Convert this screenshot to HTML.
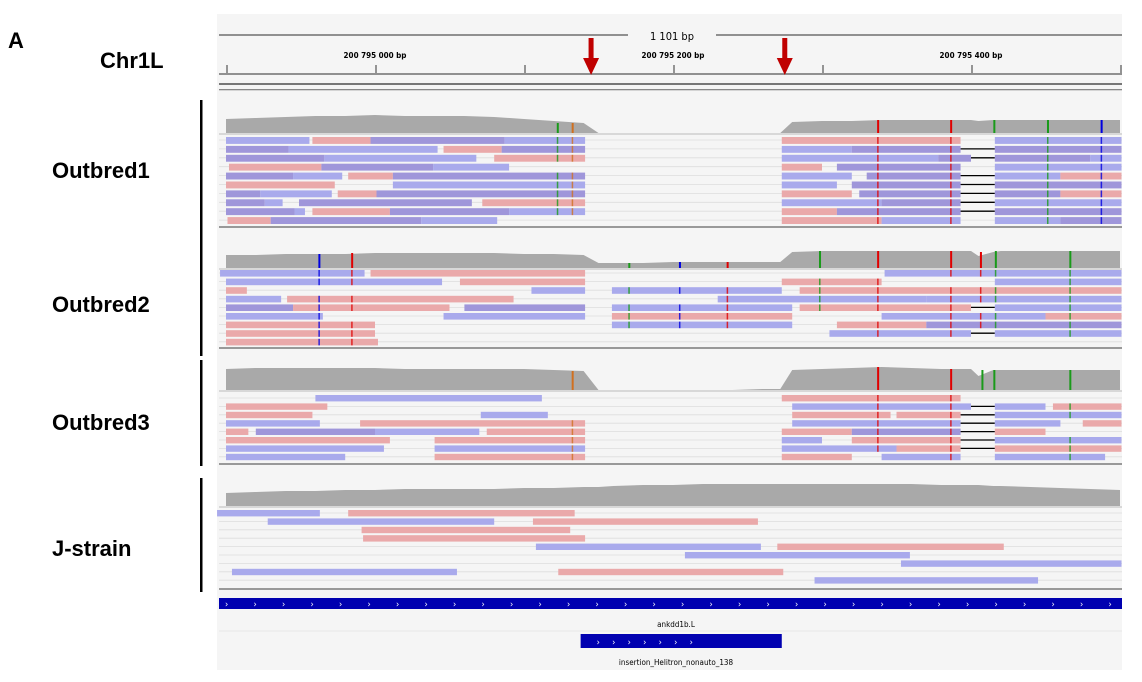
<!DOCTYPE html>
<html><head><meta charset="utf-8">
<style>
body{margin:0;background:#fff;width:1142px;height:682px;overflow:hidden;font-family:"Liberation Sans",sans-serif}
svg{position:absolute;left:0;top:0}
.lbl{font-family:"Liberation Sans",sans-serif;font-weight:bold;font-size:22px;fill:#000}
.sm{font-family:"DejaVu Sans Condensed","DejaVu Sans",sans-serif;font-size:8px;fill:#000}
</style></head>
<body>
<svg id="c" width="1142" height="682"></svg>
<script>
// genomic coordinate (bp offset from 200 794 900) -> pixel
const tickLabels=["200 795 000 bp","200 795 200 bp","200 795 400 bp"];
const tickLabelBp=[100,300,500];
const tickBp=[0,100,200,300,400,500,600];
const arrowBp=[243,373];
const covBp=[0,20,40,60,80,100,120,140,160,180,200,220,240,250,260,280,300,320,340,360,372,380,400,420,440,460,480,500,505,515,520,540,560,580,600];
const cov1=[14,15,16,17,17,18,17,17,17,16,14,12,10,0,0,0,0,0,0,0,0,11,12,12,13,13,13,13,12,13,13,13,13,13,13];
const cov2=[13,13,14,14,14,15,15,15,15,15,14,14,13,5,5,5,6,6,6,6,6,16,17,17,17,17,17,17,12,16,17,17,17,17,17];
const cov3=[21,22,22,22,22,22,21,21,21,21,21,20,19,0,0,0,0,0,0,1,1,20,21,22,23,22,21,21,14,20,20,20,20,20,20];
const cov4=[13,14,15,15,16,16,17,17,17,17,18,18,19,19,20,21,21,22,22,22,22,22,22,22,22,22,21,21,21,20,20,19,18,17,16];
// reads: [row, startBp, endBp, colour]  p=pink(+) b=blue(-) v=overlapping pair
const reads1=[[0,0,56,'b'],[0,58,97,'p'],[0,97,187,'v'],[0,187,241,'b'],[0,373,493,'p'],[0,516,601,'b'],
[1,0,42,'v'],[1,42,142,'b'],[1,146,185,'p'],[1,185,241,'v'],[1,373,420,'b'],[1,420,493,'v'],[1,516,601,'v'],
[2,0,66,'v'],[2,66,168,'b'],[2,180,241,'p'],[2,373,478,'b'],[2,478,500,'v'],[2,516,580,'v'],[2,580,601,'b'],
[3,2,64,'p'],[3,64,139,'v'],[3,139,190,'b'],[3,373,400,'p'],[3,410,493,'v'],[3,516,601,'b'],
[4,0,45,'v'],[4,45,78,'b'],[4,82,112,'p'],[4,112,241,'v'],[4,373,420,'b'],[4,430,493,'v'],[4,516,560,'b'],[4,560,601,'p'],
[5,0,73,'p'],[5,112,241,'b'],[5,373,410,'b'],[5,420,493,'v'],[5,516,601,'v'],
[6,0,23,'v'],[6,23,71,'b'],[6,75,101,'p'],[6,101,241,'v'],[6,373,420,'p'],[6,425,493,'v'],[6,516,560,'v'],[6,560,601,'p'],
[7,0,26,'v'],[7,26,38,'b'],[7,49,165,'v'],[7,172,241,'p'],[7,373,440,'b'],[7,440,493,'v'],[7,516,601,'b'],
[8,0,46,'v'],[8,46,53,'b'],[8,58,110,'p'],[8,110,190,'v'],[8,190,241,'b'],[8,373,410,'p'],[8,410,493,'v'],[8,516,601,'v'],
[9,1,30,'p'],[9,30,131,'v'],[9,131,182,'b'],[9,373,440,'p'],[9,440,493,'b'],[9,516,560,'b'],[9,560,601,'v']];
const reads2=[[0,-4,93,'b'],[0,97,241,'p'],[0,442,601,'b'],
[1,0,145,'b'],[1,157,241,'p'],[1,373,440,'p'],[1,516,601,'b'],
[2,0,14,'p'],[2,205,241,'b'],[2,259,373,'b'],[2,385,601,'p'],
[3,0,37,'b'],[3,41,193,'p'],[3,330,470,'b'],[3,470,601,'b'],
[4,0,45,'v'],[4,45,150,'p'],[4,160,241,'v'],[4,259,380,'b'],[4,385,500,'p'],[4,516,601,'b'],
[5,0,65,'b'],[5,146,241,'b'],[5,259,380,'p'],[5,440,550,'b'],[5,550,601,'p'],
[6,0,100,'p'],[6,259,380,'b'],[6,410,470,'p'],[6,470,601,'v'],
[7,0,100,'p'],[7,405,500,'b'],[7,516,601,'b'],
[8,0,102,'p']];
const reads3=[[0,60,212,'b'],[0,373,493,'p'],
[1,0,68,'p'],[1,380,500,'b'],[1,516,550,'b'],[1,555,601,'p'],
[2,0,58,'p'],[2,171,216,'b'],[2,380,446,'p'],[2,450,493,'p'],[2,516,601,'b'],
[3,0,63,'b'],[3,90,241,'p'],[3,380,493,'b'],[3,516,560,'b'],[3,575,601,'p'],
[4,0,15,'p'],[4,20,100,'v'],[4,100,170,'b'],[4,175,241,'p'],[4,373,420,'p'],[4,420,493,'v'],[4,516,550,'p'],
[5,0,110,'p'],[5,140,241,'p'],[5,373,400,'b'],[5,420,493,'p'],[5,516,601,'b'],
[6,0,106,'b'],[6,140,241,'b'],[6,373,450,'b'],[6,450,493,'p'],[6,516,601,'p'],
[7,0,80,'b'],[7,140,241,'p'],[7,373,420,'p'],[7,440,493,'b'],[7,516,590,'b']];
const reads4=[[0,-6,63,'b'],[0,82,234,'p'],
[1,28,180,'b'],[1,206,357,'p'],
[2,91,231,'p'],
[3,92,241,'p'],
[4,208,359,'b'],[4,370,522,'p'],
[5,308,459,'b'],
[6,453,601,'b'],
[7,4,155,'b'],[7,223,374,'p'],
[8,395,545,'b']];
// mismatch marks per track: [bp, colour]
const mm1=[[222,'#1a9a1a'],[232,'#d07020'],[437,'#e00000'],[486,'#e00000'],[515,'#1a9a1a'],[551,'#1a9a1a'],[587,'#0000e0']];
const mm2=[[62,'#0000e0'],[84,'#e00000'],[270,'#1a9a1a'],[304,'#0000e0'],[336,'#e00000'],[398,'#1a9a1a'],[437,'#e00000'],[486,'#e00000'],[506,'#e00000'],[516,'#1a9a1a'],[566,'#1a9a1a']];
const mm3=[[232,'#d07020'],[437,'#e00000'],[486,'#e00000'],[507,'#1a9a1a'],[515,'#1a9a1a'],[566,'#1a9a1a']];

const X=bp=>226+bp*1.49;
const S=document.getElementById('c');
const NS='http://www.w3.org/2000/svg';
function el(tag,attrs,parent){const e=document.createElementNS(NS,tag);for(const k in attrs)e.setAttribute(k,attrs[k]);(parent||S).appendChild(e);return e;}
function txt(x,y,s,cls,anchor,parent){const t=el('text',{x:x,y:y,class:cls,'text-anchor':anchor||'start'},parent);t.textContent=s;return t;}

// panel background
const bg=el('rect',{x:217,y:14,width:905,height:656,fill:'#f5f5f5'});



const fA=txt(8,48,'A','lbl');


const chr=txt(100,68,'Chr1L','lbl');



// ruler
const ruler=el('g',{});


el('line',{x1:219,y1:35,x2:628,y2:35,stroke:'#555','stroke-width':1.2},ruler);
el('line',{x1:716,y1:35,x2:1122,y2:35,stroke:'#555','stroke-width':1.2},ruler);
txt(672,40,'1 101 bp','sm','middle',ruler).setAttribute('style','font-size:11px');
tickLabelBp.forEach((b,i)=>{const t=txt(X(b),58,tickLabels[i],'sm','middle',ruler);t.setAttribute('style','font-weight:bold;font-size:8px');});
tickBp.forEach(b=>el('line',{x1:X(b)+1,y1:65,x2:X(b)+1,y2:73,stroke:'#333'},ruler));
el('line',{x1:219,y1:74,x2:1122,y2:74,stroke:'#555','stroke-width':1.2},ruler);
el('rect',{x:219,y:83,width:903,height:2,fill:'#777'},ruler);
el('rect',{x:219,y:89,width:903,height:1.3,fill:'#888'},ruler);
arrowBp.forEach((b,i)=>{const a=el('g',{});
 const x=X(b)+3;el('rect',{x:x-2.5,y:38,width:5,height:22,fill:'#c00000'},a);el('polygon',{points:`${x-8},58 ${x+8},58 ${x},75`,fill:'#c00000'},a);});

const colors={p:'#eaa9aa',b:'#a9aaec',v:'#9f96da'};
function track(name,label,labelY,lineY1,lineY2,covTop,covH,cov,rowY0,dy,nrows,reads,mm,gapLines,sepY){
 const g=el('g',{});
 
 
 const t=txt(52,labelY,label,'lbl','start',g);
 el('rect',{x:200,y:lineY1,width:2.5,height:lineY2-lineY1,fill:'#000'},g);
 // coverage
 const base=covTop+covH;
 let pts=`${X(covBp[0])},${base} `;
 covBp.forEach((b,i)=>{pts+=`${X(b)},${base-cov[i]} `;});
 pts+=`${X(covBp[covBp.length-1])},${base}`;
 const c=el('polygon',{points:pts,fill:'#a9a9a9'},g);
 
 
 el('line',{x1:219,y1:base+1,x2:1122,y2:base+1,stroke:'#bbb'},g);
 mm.forEach(m=>el('rect',{x:X(m[0]),y:base-cov[covBp.findIndex(b=>b>=m[0])]||base-10,width:2,height:cov[covBp.findIndex(b=>b>=m[0])]||10,fill:m[1]},g));
 for(let r=0;r<nrows;r++)el('line',{x1:219,y1:rowY0+r*dy+3,x2:1122,y2:rowY0+r*dy+3,stroke:'#ddd','stroke-width':0.8},g);
 gapLines.forEach(r=>el('line',{x1:X(493),y1:rowY0+r*dy+3,x2:X(516),y2:rowY0+r*dy+3,stroke:'#000','stroke-width':1.3},g));
 reads.forEach(rd=>{const rc=el('rect',{x:X(rd[1]),y:rowY0+rd[0]*dy,width:X(rd[2])-X(rd[1]),height:dy-2,fill:colors[rd[3]]},g);
  
  });
 mm.forEach(m=>reads.forEach(rd=>{if(m[0]>rd[1]&&m[0]<rd[2])el('rect',{x:X(m[0]),y:rowY0+rd[0]*dy,width:1.5,height:dy-2,fill:m[1],opacity:0.8},g);}));
 el('rect',{x:219,y:sepY,width:903,height:2,fill:'#999'},g);
}
track('outbred1','Outbred1',178,100,243,113,20,cov1,137,8.9,10,reads1,mm1,[1,2,4,5,6,7,8],226);
track('outbred2','Outbred2',312,231,356,248,20,cov2,270,8.6,9,reads2,mm2,[2,4,5,6,7],347);
track('outbred3','Outbred3',430,360,466,366,24,cov3,395,8.4,8,reads3,mm3,[1,2,3,4,5,6],463);
track('j-strain','J-strain',556,478,592,484,22,cov4,510,8.4,9,reads4,[],[],588);

// gene track
const gene=el('g',{});


el('rect',{x:219,y:598,width:903,height:11,fill:'#0000b0'},gene);
for(let i=0;i<32;i++)txt(225+i*28.5,607,'›','sm','start',gene).setAttribute('style','fill:#fff;font-size:9px');
const gl=txt(676,627,'ankdd1b.L','sm','middle');


el('line',{x1:219,y1:631,x2:1122,y2:631,stroke:'#e8e8e8'});
const ins=el('g',{});


el('rect',{x:X(238),y:634,width:X(373)-X(238),height:14,fill:'#0000b0'},ins);
for(let i=0;i<7;i++)txt(X(238)+16+i*15.5,645,'›','sm','start',ins).setAttribute('style','fill:#fff;font-size:9px');
const il=txt(676,665,'insertion_Helitron_nonauto_138','sm','middle');


</script>
</body></html>
